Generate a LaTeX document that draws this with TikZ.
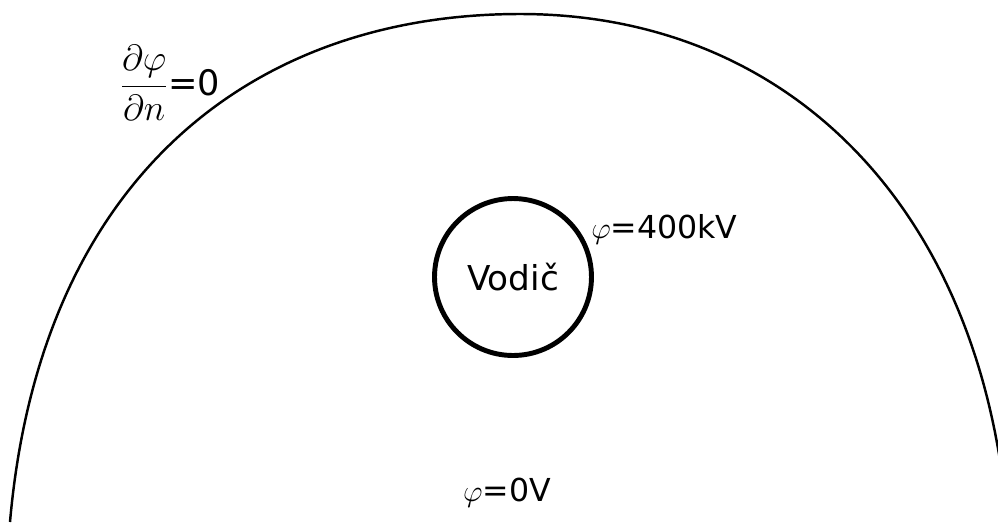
\documentclass[tikz,border=0pt]{standalone}
\usepackage{amsmath}
\usepackage{fontspec}
\setmainfont{DejaVu Sans}
\usepackage{tikz}
\usetikzlibrary{positioning}

\begin{document}
\begin{tikzpicture}[
  x=0.02cm,y=-0.02cm,
  lbl/.style={font=\fontsize{18}{21}\selectfont,inner sep=0pt},
  wire/.style={circle,draw=black,line width=2.8pt,minimum size=3.14cm,inner sep=0pt,font=\fontsize{19.5}{22}\selectfont},
  bound/.style={line width=1.4pt,color=black}
]
\useasboundingbox (0,0) rectangle (998,522);
\clip (0,0) rectangle (998,522);
% outer boundary
\draw[bound] (10,522) .. controls (40,180) and (250,14) .. (520,14)
  .. controls (790,14) and (985,210) .. (1008,530);
\node[wire] (vodic) at (513,277) {Vodi\v{c}};
\node[lbl,anchor=west] (phiv) at (591,229) {$\varphi$=400kV};
\node[lbl,font=\fontsize{20}{24}\selectfont] (phin) at (170,83) {$\dfrac{\partial\varphi}{\partial n}$=0};
\node[lbl] (phiz) at (507,493) {$\varphi$=0V};
\end{tikzpicture}
\end{document}
